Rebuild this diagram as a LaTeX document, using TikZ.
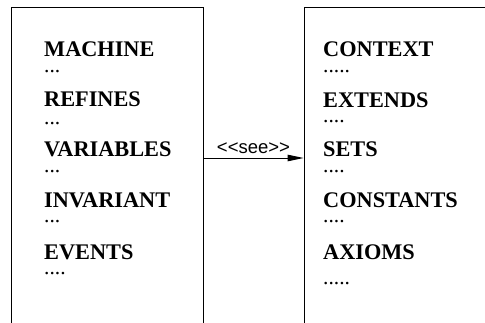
\documentclass[tikz,border=0pt]{standalone}
\usepackage{fontspec}
\setmainfont{Liberation Serif}
\setsansfont{Liberation Sans}
\usetikzlibrary{arrows.meta}
\tikzset{
  panel/.style={draw, line width=0.9pt, rectangle, inner sep=0pt},
  kw/.style={anchor=base west, inner sep=0pt, text depth=0pt, font=\fontsize{22.3}{24}\selectfont\bfseries},
  dots/.style={anchor=base west, inner sep=0pt, text height=4pt, text depth=0pt, font=\fontsize{21.5}{24}\selectfont},
  link/.style={line width=0.9pt, -{Triangle[length=16pt,width=6.5pt]}},
  stereo/.style={font=\sffamily\fontsize{18.5}{20}\selectfont, inner sep=0pt, anchor=base}
}
\begin{document}
\begin{tikzpicture}[x=1pt, y=-1pt]
  \useasboundingbox (0,0) rectangle (485,323);
  \clip (0,0) rectangle (485,323);
  % machine panel (left) and context panel (right), both running past the page edge
  \node[panel, minimum width=192pt, minimum height=340pt] (mach) at (107,177) {};
  \node[panel, minimum width=200pt, minimum height=340pt] (ctx) at (404,177) {};
  % machine clauses
  \node[kw]   (m1) at (44,57)  {MACHINE};
  \node[dots] (d1) at (44,73)  {...};
  \node[kw]   (m2) at (44,107) {REFINES};
  \node[dots] (d2) at (44,125) {...};
  \node[kw]   (m3) at (44,157) {VARIABLES};
  \node[dots] (d3) at (44,173) {...};
  \node[kw]   (m4) at (44,208) {INVARIANT};
  \node[dots] (d4) at (44,223) {...};
  \node[kw]   (m5) at (44,260) {EVENTS};
  \node[dots] (d5) at (44,275) {....};
  % context clauses
  \node[kw]   (c1) at (323,57)  {CONTEXT};
  \node[dots] (e1) at (323,73)  {.....};
  \node[kw]   (c2) at (323,108) {EXTENDS};
  \node[dots] (e2) at (323,123) {....};
  \node[kw]   (c3) at (323,157) {SETS};
  \node[dots] (e3) at (323,173) {....};
  \node[kw]   (c4) at (323,208) {CONSTANTS};
  \node[dots] (e4) at (323,223) {....};
  \node[kw]   (c5) at (323,260) {AXIOMS};
  \node[dots] (e5) at (323,285) {.....};
  % "see" relation
  \coordinate (lvl) at (0,158);
  \draw[link] (mach.east |- lvl) -- node[stereo, above=0pt, yshift=4pt] (see) {<{}<see>{}>} (ctx.west |- lvl);
\end{tikzpicture}
\end{document}
